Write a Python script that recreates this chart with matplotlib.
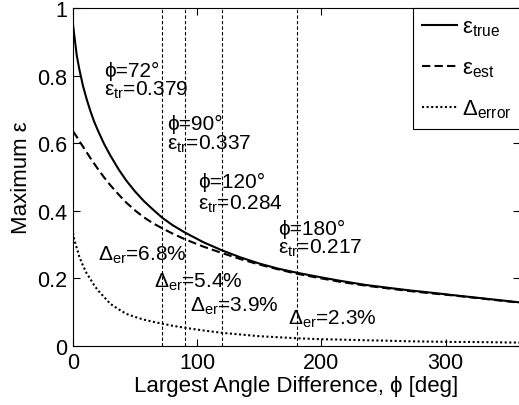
import numpy as np
import matplotlib
matplotlib.use("Agg")
import matplotlib.pyplot as plt

plt.rcParams['font.family'] = ['Liberation Sans', 'DejaVu Sans']
plt.rcParams['mathtext.fontset'] = 'custom'
plt.rcParams['mathtext.rm'] = 'Liberation Sans'
plt.rcParams['mathtext.it'] = 'Liberation Sans'
plt.rcParams['mathtext.bf'] = 'Liberation Sans:bold'

# valores
phi = [0, 1, 3, 5, 8, 11, 14, 17, 20, 25, 30, 37, 43, 50, 57, 64, 72, 80, 90, 105, 120, 135, 150, 165, 180, 200, 215, 235, 250, 270, 288, 305, 320, 340, 360]
eps_true = [0.95, 0.92, 0.86, 0.82, 0.77, 0.73, 0.695, 0.664, 0.638, 0.598, 0.564, 0.521, 0.489, 0.457, 0.429, 0.405, 0.379, 0.358, 0.336, 0.307, 0.283, 0.262, 0.244, 0.229, 0.217, 0.203, 0.193, 0.181, 0.174, 0.165, 0.158, 0.151, 0.145, 0.137, 0.129]
eps_est = [0.635, 0.630, 0.619, 0.607, 0.590, 0.573, 0.556, 0.540, 0.524, 0.499, 0.476, 0.447, 0.424, 0.401, 0.381, 0.364, 0.348, 0.333, 0.316, 0.294, 0.275, 0.257, 0.241, 0.227, 0.214, 0.200, 0.190, 0.179, 0.172, 0.163, 0.156, 0.150, 0.144, 0.136, 0.128]
delta_err = [0.335, 0.315, 0.29, 0.265, 0.238, 0.215, 0.198, 0.18, 0.165, 0.145, 0.125, 0.108, 0.095, 0.086, 0.078, 0.072, 0.066, 0.060, 0.054, 0.046, 0.039, 0.034, 0.029, 0.026, 0.023, 0.020, 0.019, 0.017, 0.016, 0.014, 0.013, 0.012, 0.012, 0.011, 0.010]

phi_marc = [72, 90, 120, 180]
eps_marc = ['0.379', '0.337', '0.284', '0.217']
err_marc = ['6.8', '5.4', '3.9', '2.3']
# posicoes dos textos (x, y) em coordenadas dos dados
pos_phi = [(25, 0.80), (76, 0.642), (101, 0.47), (165, 0.331)]
pos_eps = [(25, 0.745), (76, 0.584), (101, 0.405), (165, 0.276)]
pos_err = [(20, 0.254), (65, 0.174), (94, 0.104), (173, 0.065)]

fig = plt.figure(figsize=(5.19, 4.06), dpi=100)
ax = fig.add_axes([0.1407, 0.1453, 0.8613, 0.8325])

for p in phi_marc:
    ax.axvline(p, color='k', lw=0.8, ls=(0, (3, 2)))

ax.plot(phi, eps_true, 'k-', lw=1.5, label=r'$\mathrm{ε}_{true}$')
ax.plot(phi, eps_est, 'k', ls=(0, (4, 2)), lw=1.5, label=r'$\mathrm{ε}_{est}$')
ax.plot(phi, delta_err, 'k', ls=(0, (1, 1.2)), lw=1.5, label=r'$\Delta_{error}$')

fs = 15
for i in range(4):
    ax.text(pos_phi[i][0], pos_phi[i][1], '\u03d5=%d°' % phi_marc[i], fontsize=fs)
    ax.text(pos_eps[i][0], pos_eps[i][1], r'$\mathrm{ε}_{tr}$=' + eps_marc[i], fontsize=fs)
    ax.text(pos_err[i][0], pos_err[i][1], r'$\Delta_{er}$=' + err_marc[i] + '%', fontsize=fs)

ax.set_xlim(0, 360)
ax.set_ylim(0, 1)
ax.set_xticks([0, 100, 200, 300])
ax.set_yticks([0, 0.2, 0.4, 0.6, 0.8, 1])
ax.set_yticklabels(['0', '0.2', '0.4', '0.6', '0.8', '1'])
ax.tick_params(direction='in', length=5, labelsize=15.5, top=True, right=True, pad=4)
ax.set_xlabel('Largest Angle Difference, \u03d5 [deg]', fontsize=16, labelpad=2)
ax.set_ylabel('Maximum ε', fontsize=16, labelpad=4)

leg = ax.legend(loc='upper left', bbox_to_anchor=(413 / 519, 1 - 9 / 406),
                bbox_transform=fig.transFigure, fontsize=16, frameon=True,
                fancybox=False, edgecolor='k', framealpha=1, borderaxespad=0,
                handlelength=1.6, handletextpad=0.2, labelspacing=0.85,
                borderpad=0.4)
leg.get_frame().set_linewidth(0.8)

fig.savefig('out.png', dpi=100)
